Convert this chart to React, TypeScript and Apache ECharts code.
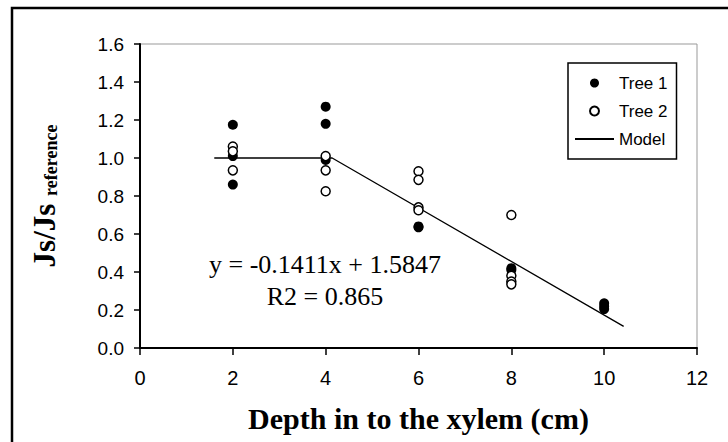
import React, { useEffect, useRef } from "react";
import * as echarts from "echarts";

// Data
const depthTree1 = [2, 2, 2, 4, 4, 4, 6, 6, 8, 8, 10, 10, 10];
const jsTree1 = [1.175, 1.01, 0.86, 1.27, 1.18, 0.99, 0.64, 0.635, 0.42, 0.41, 0.235, 0.22, 0.205];
const depthTree2 = [2, 2, 2, 4, 4, 4, 6, 6, 6, 6, 8, 8, 8, 8];
const jsTree2 = [1.06, 1.035, 0.935, 1.01, 0.935, 0.825, 0.93, 0.885, 0.74, 0.725, 0.7, 0.38, 0.35, 0.335];
const modelDepth = [1.6, 4.14, 10.42];
const modelJs = [1.0, 1.0, 0.114];
const seriesNames = ["Tree 1", "Tree 2", "Model"];
const equationLines = ["y = -0.1411x + 1.5847", "R2 = 0.865"];
const xTitle = "Depth in to the xylem (cm)";
const yTitleMain = "Js/Js ";
const yTitleSub = "reference";

const SANS = "'Liberation Sans', Arial, sans-serif";
const SERIF = "'Liberation Serif', 'Times New Roman', serif";

export default function App() {
  const ref = useRef<HTMLDivElement>(null);
  useEffect(() => {
    const chart = echarts.init(ref.current!, null, { renderer: "svg" });
    chart.setOption({
      animation: false,
      backgroundColor: "#fff",
      grid: {
        left: 140,
        top: 44,
        width: 557,
        height: 304,
        show: true,
        borderColor: "#999",
        borderWidth: 1,
      },
      xAxis: {
        type: "value",
        min: 0,
        max: 12,
        interval: 2,
        name: xTitle,
        nameLocation: "middle",
        nameGap: 55,
        nameTextStyle: { fontFamily: SERIF, fontWeight: "bold", fontSize: 30, color: "#000" },
        axisLine: { onZero: false, lineStyle: { color: "#000", width: 2 } },
        axisTick: { length: 7, lineStyle: { color: "#000", width: 1.5 } },
        axisLabel: { fontFamily: SANS, fontSize: 20, color: "#000", margin: 20 },
        splitLine: { show: false },
      },
      yAxis: {
        type: "value",
        min: 0,
        max: 1.6,
        interval: 0.2,
        name: "{a|" + yTitleMain + "}{b|" + yTitleSub + "}",
        nameLocation: "middle",
        nameRotate: 90,
        nameGap: 80,
        nameTextStyle: {
          rich: {
            a: { fontFamily: SERIF, fontWeight: "bold", fontSize: 31, color: "#000", verticalAlign: "bottom" },
            b: { fontFamily: SERIF, fontWeight: "bold", fontSize: 18, color: "#000", verticalAlign: "bottom" },
          },
        },
        axisLine: { onZero: false, lineStyle: { color: "#000", width: 2 } },
        axisTick: { length: 6, lineStyle: { color: "#000", width: 1.5 } },
        axisLabel: {
          fontFamily: SANS,
          fontSize: 19,
          color: "#000",
          margin: 16,
          formatter: (v: number) => v.toFixed(1),
        },
        splitLine: { show: false },
      },
      legend: {
        data: [
          { name: seriesNames[0] },
          { name: seriesNames[1] },
          { name: seriesNames[2], itemStyle: { opacity: 0 } },
        ],
        orient: "vertical",
        left: 568,
        top: 63,
        itemWidth: 39,
        itemHeight: 9,
        itemGap: 10,
        padding: [11, 9, 11, 6],
        borderColor: "#000",
        borderWidth: 1.5,
        selectedMode: false,
        textStyle: { fontFamily: SANS, fontSize: 17, color: "#000", lineHeight: 18 },
      },
      graphic: [
        {
          type: "polyline",
          shape: { points: [[12, 442], [12, 8], [728, 8]] },
          style: { stroke: "#000", lineWidth: 2.5, fill: "none" },
          silent: true,
        },
        {
          type: "text",
          x: 325,
          y: 264,
          style: {
            text: equationLines[0],
            fontFamily: SERIF,
            fontSize: 26,
            fill: "#000",
            align: "center",
            verticalAlign: "middle",
          },
        },
        {
          type: "text",
          x: 325,
          y: 296,
          style: {
            text: equationLines[1],
            fontFamily: SERIF,
            fontSize: 26,
            fill: "#000",
            align: "center",
            verticalAlign: "middle",
          },
        },
      ],
      series: [
        {
          name: seriesNames[2],
          type: "line",
          data: modelDepth.map((x, i) => [x, modelJs[i]]),
          symbol: "none",
          lineStyle: { color: "#000", width: 1.3 },
          itemStyle: { color: "#000" },
          z: 1,
        },
        {
          name: seriesNames[0],
          type: "scatter",
          data: depthTree1.map((x, i) => [x, jsTree1[i]]),
          symbol: "circle",
          symbolSize: 10,
          itemStyle: { color: "#000", opacity: 1 },
          z: 3,
        },
        {
          name: seriesNames[1],
          type: "scatter",
          data: depthTree2.map((x, i) => [x, jsTree2[i]]),
          symbol: "circle",
          symbolSize: 9,
          itemStyle: { color: "#fff", borderColor: "#000", borderWidth: 1.5, opacity: 1 },
          z: 4,
        },
      ],
    });
    return () => chart.dispose();
  }, []);
  return (
    <div
      ref={ref}
      style={{ position: "absolute", left: 0, top: 0, width: 728, height: 442, background: "#fff" }}
    />
  );
}
